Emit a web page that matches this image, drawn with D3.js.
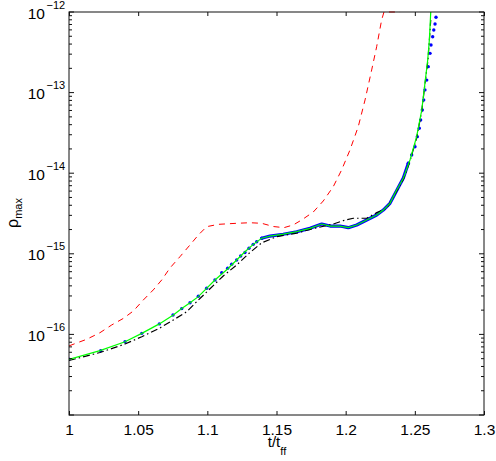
<!doctype html>
<html>
<head>
<meta charset="utf-8">
<style>
  body { margin: 0; background: #fff; }
  svg text { font-family: "Liberation Sans", Arial, sans-serif; fill: #000; }
</style>
<script src="https://d3js.org/d3.v7.min.js"></script>
</head>
<body>
<svg width="496" height="461" id="chart"></svg>
<script>
// data: [t/t_ff, rho_max]
var redDashed = [
  [1.0000, 7.2e-17], [1.0128, 8.7e-17], [1.0224, 1.05e-16], [1.0309, 1.31e-16],
  [1.0393, 1.58e-16], [1.0465, 1.95e-16], [1.0537, 2.67e-16], [1.0609, 3.56e-16],
  [1.0670, 4.73e-16], [1.0730, 6.67e-16], [1.0802, 9.2e-16], [1.0875, 1.29e-15],
  [1.0935, 1.71e-15], [1.0995, 2.17e-15], [1.1079, 2.32e-15], [1.1212, 2.39e-15],
  [1.1308, 2.43e-15], [1.1393, 2.39e-15], [1.1477, 2.18e-15], [1.1554, 2.11e-15],
  [1.1621, 2.28e-15], [1.1682, 2.63e-15], [1.1766, 3.3e-15], [1.1838, 4.52e-15],
  [1.1911, 6.84e-15], [1.1971, 1.10e-14], [1.2031, 1.94e-14], [1.2091, 3.78e-14],
  [1.2140, 8.1e-14], [1.2188, 1.91e-13], [1.2224, 3.71e-13], [1.2260, 7.96e-13],
  [1.2277, 1.0e-12], [1.2393, 1.0e-12]
];

var greenSolid = [
  [1.0000, 4.91e-17], [1.0224, 6.28e-17], [1.0405, 8.12e-17], [1.0526, 1.03e-16],
  [1.0653, 1.35e-16], [1.0754, 1.74e-16], [1.0815, 2.09e-16], [1.0875, 2.47e-16],
  [1.0935, 2.94e-16], [1.1055, 4.73e-16], [1.1152, 6.61e-16], [1.1212, 8.37e-16],
  [1.1272, 1.06e-15], [1.1332, 1.31e-15], [1.1393, 1.56e-15], [1.1453, 1.66e-15],
  [1.1549, 1.75e-15], [1.1646, 1.88e-15], [1.1742, 2.07e-15], [1.1827, 2.34e-15],
  [1.1887, 2.21e-15], [1.1959, 2.21e-15], [1.2019, 2.11e-15], [1.2080, 2.28e-15],
  [1.2152, 2.63e-15], [1.2224, 3.03e-15], [1.2272, 3.49e-15], [1.2320, 4.23e-15],
  [1.2369, 6.19e-15], [1.2417, 8.64e-15], [1.2465, 1.46e-14], [1.2513, 2.84e-14],
  [1.2550, 6.08e-14], [1.2573, 1.30e-13], [1.2593, 2.54e-13], [1.2605, 4.5e-13],
  [1.2615, 1.0e-12]
];

var blackDashDot = [
  [1.0000, 4.74e-17], [1.0224, 5.96e-17], [1.0405, 7.6e-17], [1.0526, 9.36e-17],
  [1.0653, 1.19e-16], [1.0754, 1.51e-16], [1.0851, 1.91e-16], [1.0935, 2.67e-16],
  [1.1115, 5.31e-16], [1.1212, 7.26e-16], [1.1296, 9.95e-16], [1.1393, 1.37e-15],
  [1.1501, 1.63e-15], [1.1646, 1.80e-15], [1.1742, 2.01e-15], [1.1911, 2.34e-15],
  [1.1983, 2.58e-15], [1.2055, 2.76e-15], [1.2152, 2.76e-15], [1.2224, 3.24e-15],
  [1.2297, 3.67e-15], [1.2369, 6.01e-15], [1.2417, 8.4e-15], [1.2465, 1.42e-14],
  [1.2513, 2.73e-14], [1.2550, 5.91e-14], [1.2573, 1.27e-13], [1.2595, 2.54e-13],
  [1.2606, 4.7e-13], [1.2615, 7.96e-13]
];

// blue: sampled points (drawn as dots)
var blueDots = [
  [1.0000, 4.91e-17], [1.0229, 6.28e-17], [1.0405, 8.12e-17], [1.0526, 1.03e-16],
  [1.0653, 1.35e-16], [1.0752, 1.74e-16], [1.0815, 2.09e-16], [1.0875, 2.47e-16],
  [1.0935, 2.97e-16], [1.0995, 3.73e-16], [1.1055, 4.73e-16], [1.1104, 5.83e-16],
  [1.1147, 6.61e-16], [1.1176, 7.41e-16], [1.1212, 8.37e-16], [1.1241, 9.39e-16],
  [1.1272, 1.04e-15], [1.1301, 1.17e-15], [1.1332, 1.31e-15], [1.1357, 1.41e-15],
  [1.1393, 1.56e-15],
  [1.2453, 1.33e-14], [1.2477, 1.68e-14], [1.2501, 2.13e-14], [1.2518, 2.84e-14],
  [1.2532, 3.61e-14], [1.2542, 4.57e-14], [1.2554, 6.08e-14], [1.2564, 8.09e-14],
  [1.2573, 1.08e-13], [1.2586, 1.43e-13], [1.2597, 2.10e-13], [1.2610, 3.07e-13],
  [1.2617, 3.9e-13], [1.2629, 4.94e-13], [1.2637, 5.98e-13], [1.2646, 7.1e-13],
  [1.2653, 8.59e-13]
];
// blue: densely sampled stretch (dots merge into a band)
var blueDense = [
  [1.1393, 1.56e-15], [1.1453, 1.66e-15], [1.1549, 1.75e-15], [1.1646, 1.88e-15],
  [1.1742, 2.07e-15], [1.1827, 2.34e-15], [1.1887, 2.21e-15], [1.1959, 2.21e-15],
  [1.2019, 2.11e-15], [1.2080, 2.28e-15], [1.2152, 2.63e-15], [1.2224, 3.03e-15],
  [1.2272, 3.49e-15], [1.2320, 4.23e-15], [1.2369, 6.1e-15], [1.2417, 8.7e-15],
  [1.2453, 1.33e-14]
];

var xTicks = [1, 1.05, 1.1, 1.15, 1.2, 1.25, 1.3];
var xTickLabels = ["1", "1.05", "1.1", "1.15", "1.2", "1.25", "1.3"];
var yDecades = [-16, -15, -14, -13, -12];

var svg = d3.select("#chart");
var pL = 69, pR = 484, pT = 12, pB = 415;

var x = d3.scaleLinear().domain([1, 1.3]).range([pL, pR]);
var y = d3.scaleLog().domain([1e-17, 1e-12]).range([pB, pT]);

svg.append("clipPath").attr("id", "clip")
   .append("rect")
   .attr("x", pL).attr("y", pT - 1)
   .attr("width", pR - pL).attr("height", pB - pT + 1);

var plot = svg.append("g").attr("clip-path", "url(#clip)");

var line = d3.line()
    .x(function(d) { return x(d[0]); })
    .y(function(d) { return y(d[1]); });

// blue dense band first (underneath)
plot.append("path").datum(blueDense)
    .attr("d", line)
    .attr("fill", "none")
    .attr("stroke", "#0000ff")
    .attr("stroke-width", 3.2)
    .attr("stroke-linejoin", "round")
    .attr("stroke-linecap", "round");

plot.selectAll(".bdot").data(blueDots).enter()
    .append("circle")
    .attr("class", "bdot")
    .attr("cx", function(d) { return x(d[0]); })
    .attr("cy", function(d) { return y(d[1]); })
    .attr("r", 1.7)
    .attr("fill", "#0000ff");

plot.append("path").datum(redDashed)
    .attr("d", line)
    .attr("fill", "none")
    .attr("stroke", "#ff0000")
    .attr("stroke-width", 1)
    .attr("stroke-dasharray", "6,5");

plot.append("path").datum(blackDashDot)
    .attr("d", line)
    .attr("fill", "none")
    .attr("stroke", "#000")
    .attr("stroke-width", 1.2)
    .attr("stroke-dasharray", "7,3,1.5,3");

plot.append("path").datum(greenSolid)
    .attr("d", line)
    .attr("fill", "none")
    .attr("stroke", "#00ff00")
    .attr("stroke-width", 1.2);

// frame
var axisColor = "#111";
svg.append("rect")
   .attr("x", pL).attr("y", pT)
   .attr("width", pR - pL).attr("height", pB - pT)
   .attr("fill", "none").attr("stroke", axisColor).attr("stroke-width", 1);

// x ticks (inward, bottom and top)
var xAxisB = d3.axisBottom(x).tickValues(xTicks).tickSizeInner(-4).tickSizeOuter(0)
    .tickFormat(function(d, i) { return xTickLabels[i]; });
var gxb = svg.append("g").attr("transform", "translate(0," + pB + ")").call(xAxisB);
gxb.select(".domain").remove();
gxb.selectAll("line").attr("stroke", axisColor);
gxb.selectAll("text")
   .attr("y", 19.5).attr("dy", 0)
   .attr("font-size", "15.5px")
   .style("font-family", "Liberation Sans, Arial, sans-serif");

var gxt = svg.append("g").attr("transform", "translate(0," + pT + ")")
    .call(d3.axisTop(x).tickValues(xTicks).tickSizeInner(-4).tickSizeOuter(0).tickFormat(""));
gxt.select(".domain").remove();
gxt.selectAll("line").attr("stroke", axisColor);

// y ticks: majors and minors on both sides
var yTicksAll = [];
yDecades.concat([-17]).forEach(function(e) {
  for (var m = 1; m <= 9; m++) {
    var v = m * Math.pow(10, e);
    if (v >= 1e-17 && v <= 1e-12) yTicksAll.push({ v: v, major: m === 1 });
  }
});
var ticks = svg.append("g");
ticks.selectAll(".ytl").data(yTicksAll).enter().append("line")
   .attr("x1", pL).attr("x2", function(d) { return pL + (d.major ? 5 : 3); })
   .attr("y1", function(d) { return y(d.v); }).attr("y2", function(d) { return y(d.v); })
   .attr("stroke", axisColor);
ticks.selectAll(".ytr").data(yTicksAll).enter().append("line")
   .attr("x1", pR).attr("x2", function(d) { return pR - (d.major ? 5 : 3); })
   .attr("y1", function(d) { return y(d.v); }).attr("y2", function(d) { return y(d.v); })
   .attr("stroke", axisColor);

// y tick labels 10^e
var ylab = svg.append("g");
yDecades.forEach(function(e) {
  var yy = y(Math.pow(10, e));
  ylab.append("text")
      .attr("x", 45).attr("y", yy + 6.5)
      .attr("text-anchor", "end")
      .attr("font-size", "15.5px")
      .text("10");
  ylab.append("text")
      .attr("x", 46.5).attr("y", yy - 3.5)
      .attr("font-size", "11px")
      .text("\u2212" + (-e));
});

// axis titles
var xt = svg.append("text")
   .attr("x", 277).attr("y", 447)
   .attr("text-anchor", "middle")
   .attr("font-size", "15px");
xt.append("tspan").text("t/t");
xt.append("tspan").attr("dy", 8).attr("font-size", "11px").text("ff");

var yt = svg.append("text")
   .attr("transform", "translate(18,213) rotate(-90)")
   .attr("text-anchor", "middle")
   .attr("font-size", "16px");
yt.append("tspan").text("\u03c1");
yt.append("tspan").attr("dy", 4).attr("font-size", "11px").text("max");
</script>
</body>
</html>
